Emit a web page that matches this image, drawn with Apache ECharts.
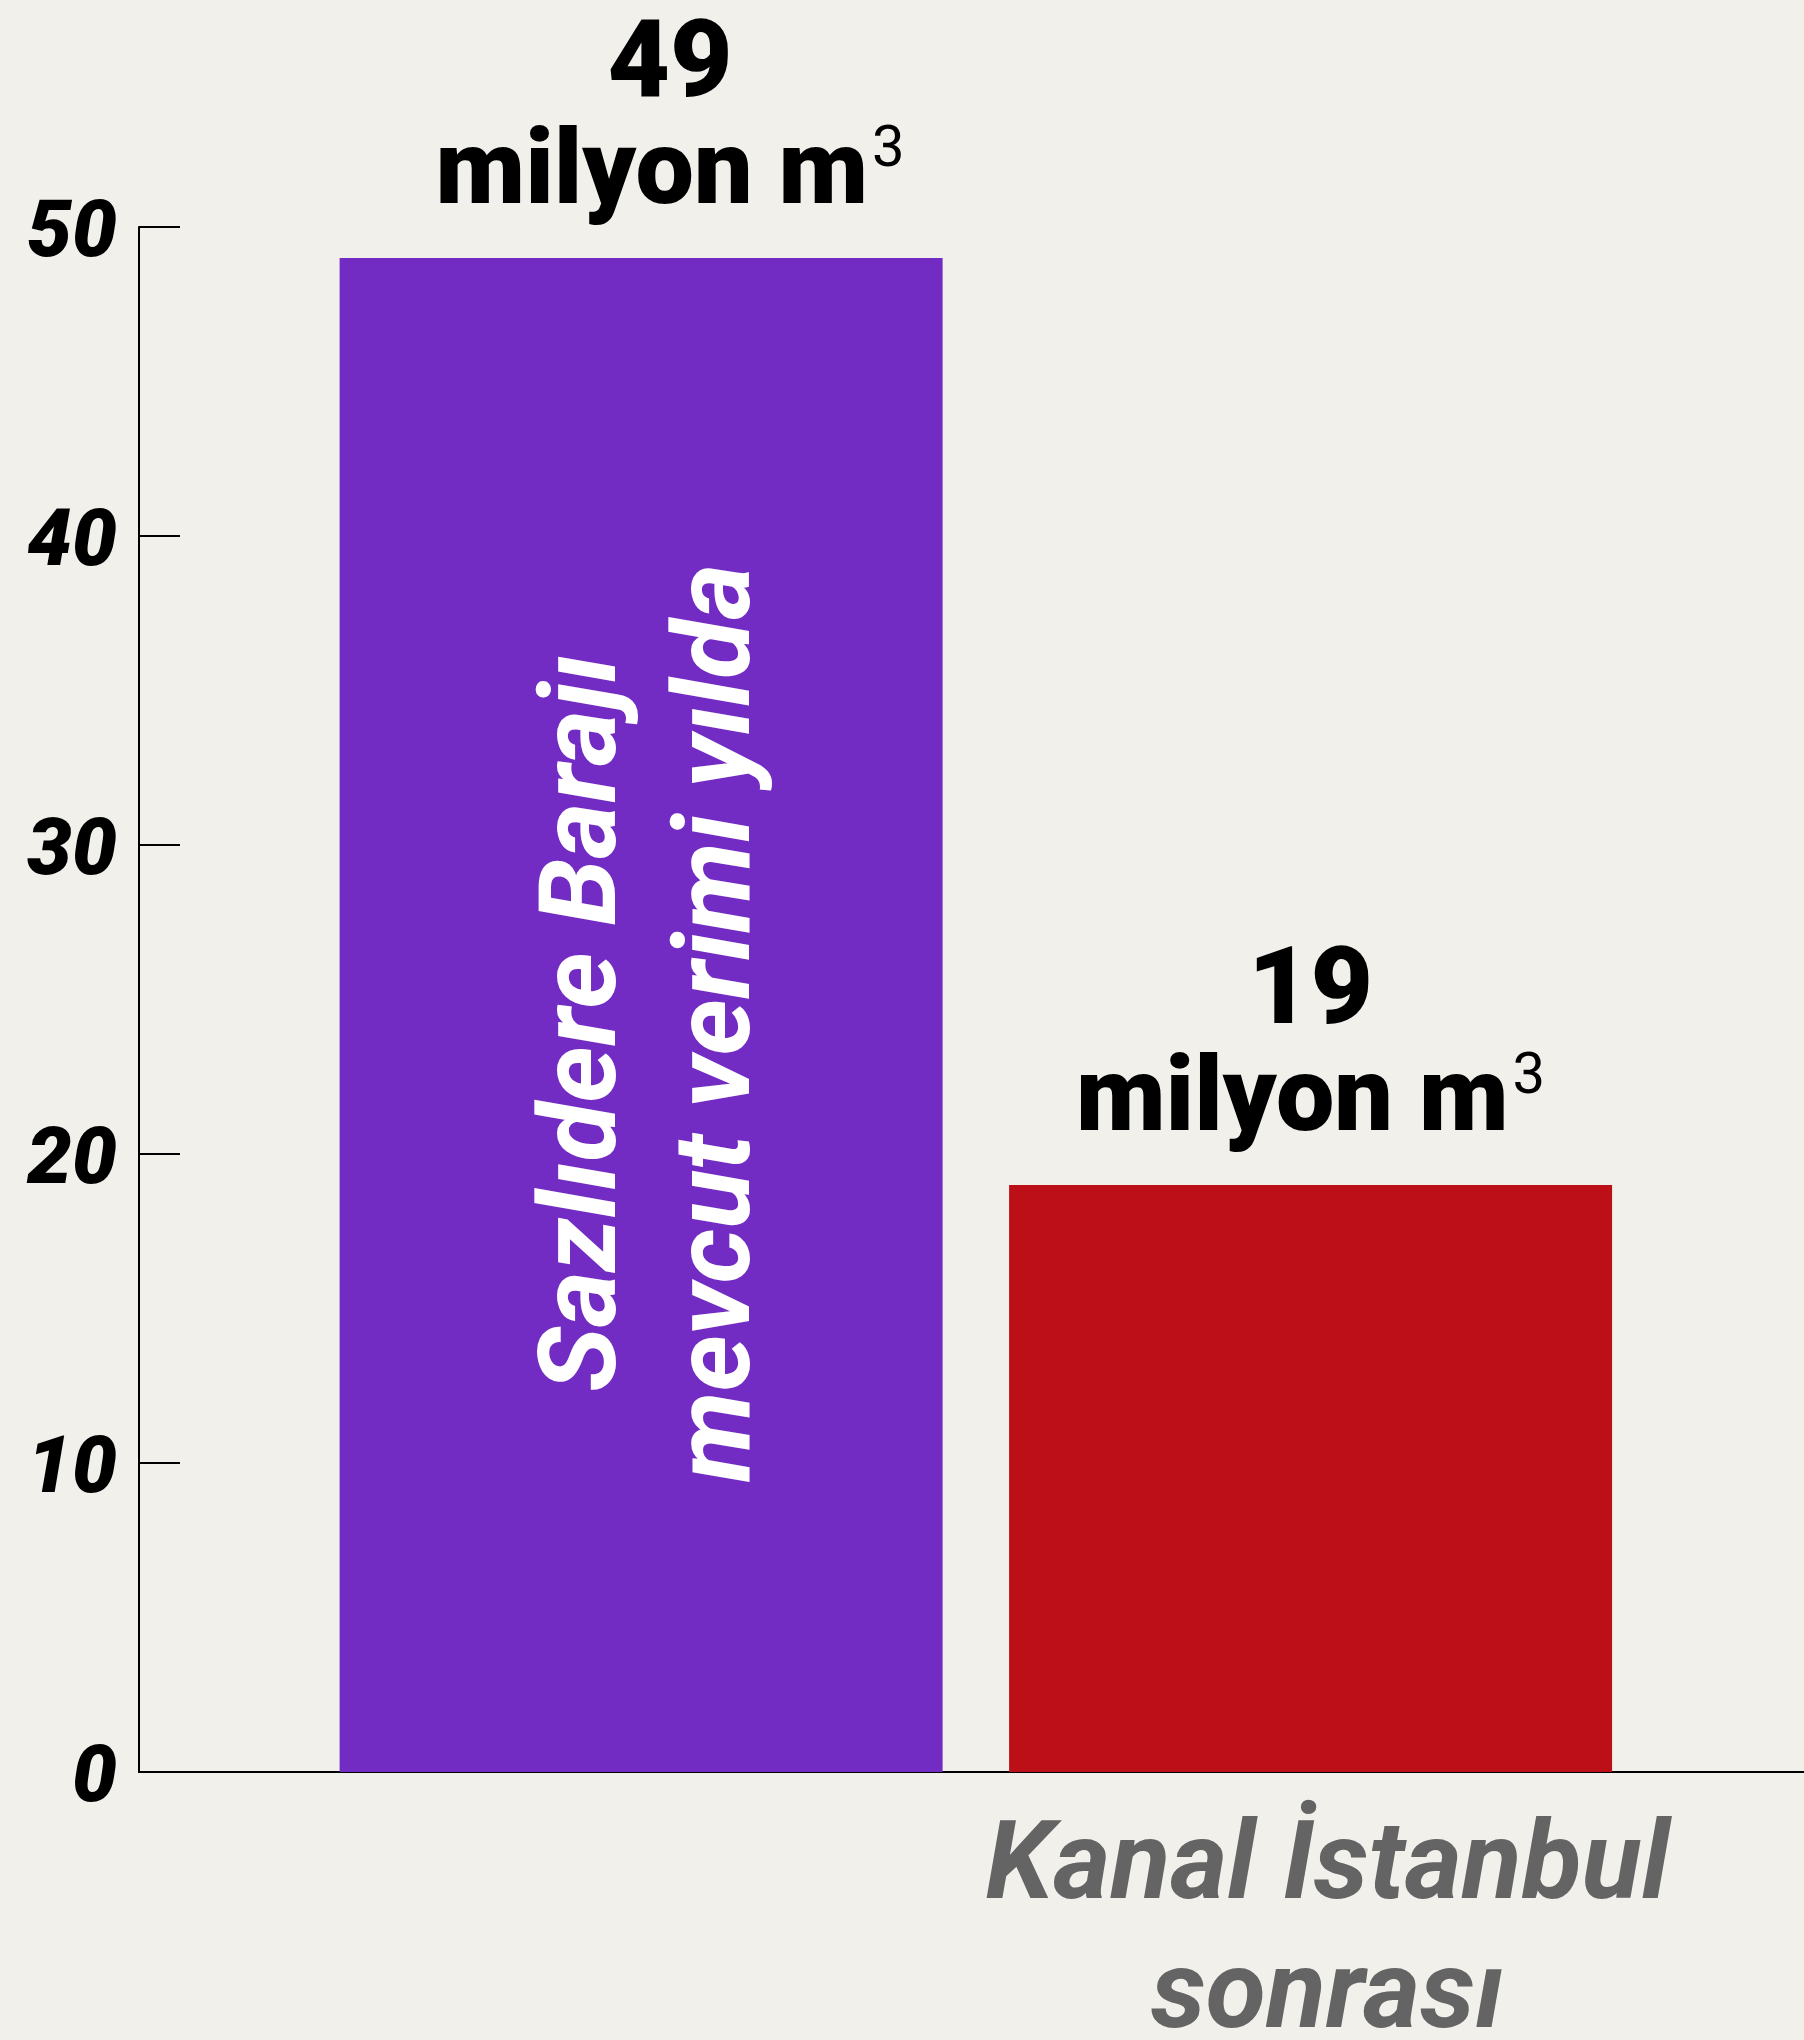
<!DOCTYPE html>
<html>
<head>
<meta charset="utf-8">
<script src="https://cdn.jsdelivr.net/npm/echarts@6/dist/echarts.min.js"></script>
<style>
  html, body { margin: 0; padding: 0; background: #f2f0eb; }
  #chart { width: 1804px; height: 2040px; }
</style>
</head>
<body>
<div id="chart"></div>
<script>
// Yearly water yield of the Sazlıdere dam, before and after Kanal İstanbul
const categories = ['Sazlıdere Barajı\nmevcut verimi yılda', 'Kanal İstanbul\nsonrası'];
const values = [49, 19];
const valueNumbers = ['49', '19'];
const unitText = 'milyon m';
const barColors = ['#722cc4', '#bc0f17'];
const yTicks = [0, 10, 20, 30, 40, 50];

const textFont = "Roboto, 'Liberation Sans', sans-serif";
const heavy = "Roboto, 'Liberation Sans', sans-serif";

const chart = echarts.init(document.getElementById('chart'));

const barData = values.map((v, i) => ({
  value: [i, v],
  itemStyle: { color: barColors[i] },
  label: { offset: [i === 0 ? 29 : 0, 0] }
}));

const innerData = values.map((v, i) => ({
  value: [i, v],
  label: { show: i === 0 }
}));

chart.setOption({
  backgroundColor: '#f2f0eb',
  animation: false,
  grid: { left: 139, right: 0, top: 227, bottom: 268, containLabel: false, outerBoundsMode: 'none' },
  xAxis: {
    type: 'value',
    min: -0.75,
    max: 1.737,
    interval: 0.25,
    splitLine: { show: false },
    axisTick: { show: false },
    axisLine: { show: true, onZero: false, lineStyle: { color: '#000', width: 2 } },
    axisLabel: {
      show: true,
      showMinLabel: false,
      showMaxLabel: false,
      margin: 34,
      formatter: (val) => (Math.abs(val - 1) < 1e-6 ? categories[1] : ''),
      color: '#646464',
      fontFamily: textFont,
      fontStyle: 'italic',
      fontWeight: 'bold',
      fontSize: 110,
      lineHeight: 129,
      padding: [0, 0, 0, 34]
    }
  },
  yAxis: {
    type: 'value',
    min: 0,
    max: 50,
    interval: 10,
    splitLine: { show: false },
    axisLine: { show: true, onZero: false, lineStyle: { color: '#000', width: 2 } },
    axisTick: { show: true, inside: true, length: 41, lineStyle: { color: '#000', width: 2 } },
    axisLabel: {
      margin: 22,
      formatter: (v) => (yTicks.includes(v) ? '{t|' + v + '}' : ''),
      rich: {
        t: {
          color: '#000',
          fontFamily: heavy,
          fontStyle: 'italic',
          fontWeight: 900,
          fontSize: 80,
          lineHeight: 80,
          padding: [18, 0, 0, 0]
        }
      }
    }
  },
  series: [
    {
      type: 'bar',
      barWidth: 603,
      barGap: '-100%',
      data: barData,
      label: {
        show: true,
        position: 'top',
        distance: 27,
        formatter: (p) => '{n|' + valueNumbers[p.dataIndex] + '}\n{u|' + unitText + '}{s|3}',
        rich: {
          n: { fontFamily: heavy, fontWeight: 900, fontSize: 108, lineHeight: 108, color: '#000' },
          u: { fontFamily: heavy, fontWeight: 900, fontSize: 104, lineHeight: 108, color: '#000' },
          s: { fontFamily: heavy, fontWeight: 400, fontSize: 58, lineHeight: 58, color: '#000', verticalAlign: 'top', padding: [0, 0, 52, 4] }
        }
      }
    },
    {
      type: 'bar',
      barWidth: 603,
      barGap: '-100%',
      itemStyle: { color: 'rgba(0,0,0,0)' },
      data: innerData,
      label: {
        position: 'inside',
        rotate: 90,
        offset: [-8, 14],
        formatter: (p) => categories[p.dataIndex],
        color: '#fff',
        fontFamily: textFont,
        fontStyle: 'italic',
        fontWeight: 'bold',
        fontSize: 108,
        lineHeight: 134
      }
    }
  ]
});
</script>
</body>
</html>
